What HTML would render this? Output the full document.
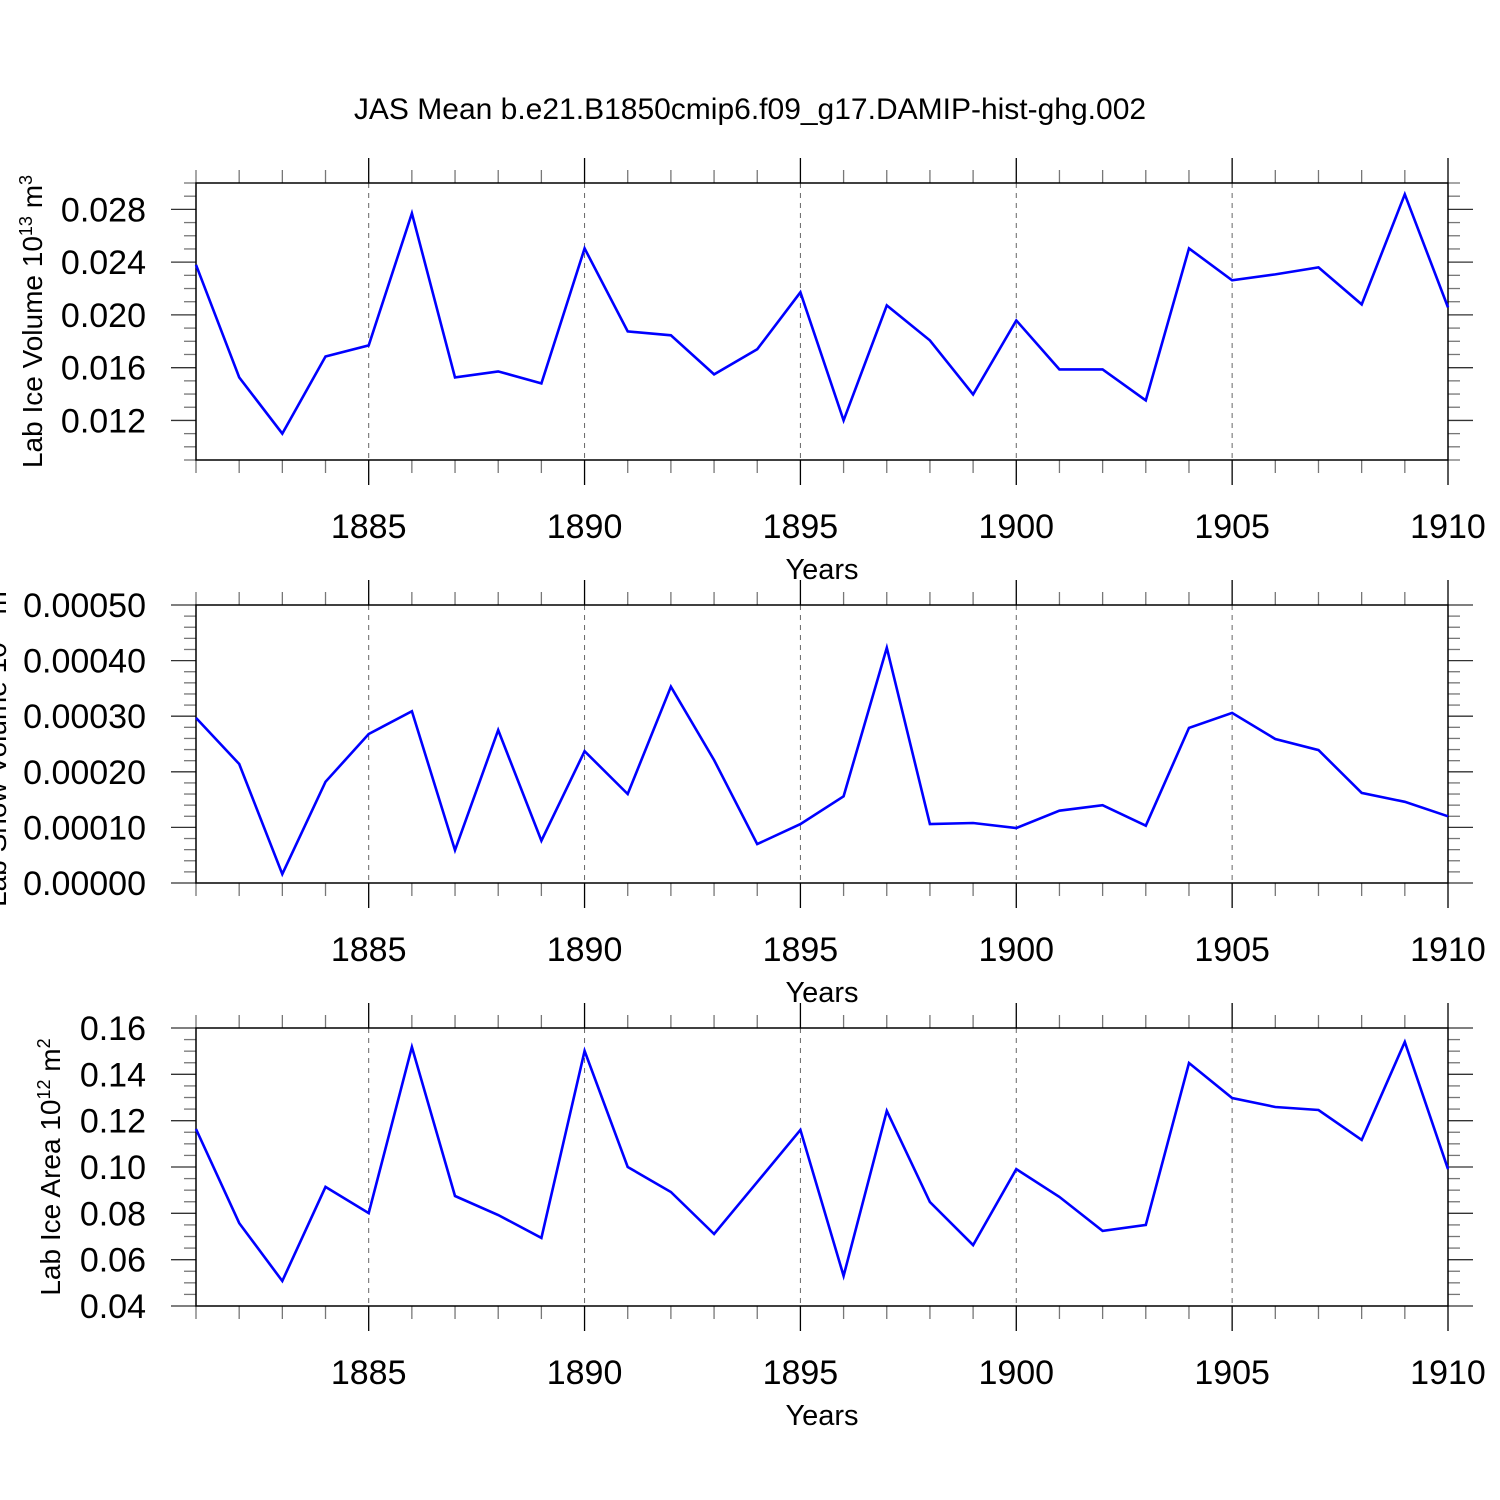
<!DOCTYPE html>
<html><head><meta charset="utf-8">
<style>
html,body{margin:0;padding:0;background:#fff;}
svg{display:block;font-family:"Liberation Sans",Arial,sans-serif;}
</style></head>
<body>
<svg id="chart" width="1500" height="1500" viewBox="0 0 1500 1500">
<text x="750" y="119" text-anchor="middle" font-size="30">JAS Mean b.e21.B1850cmip6.f09_g17.DAMIP-hist-ghg.002</text>
</svg>
<script>
const years = [1881,1882,1883,1884,1885,1886,1887,1888,1889,1890,1891,1892,1893,1894,1895,1896,1897,1898,1899,1900,1901,1902,1903,1904,1905,1906,1907,1908,1909,1910];
const iceVolume = [0.0238,0.01526,0.0110,0.01685,0.01769,0.0277,0.01526,0.01572,0.01481,0.02504,0.01875,0.01845,0.01549,0.01739,0.02171,0.0120,0.02072,0.01807,0.01397,0.01958,0.01587,0.01587,0.01352,0.02504,0.02262,0.02307,0.0236,0.0208,0.02914,0.02057];
const snowVolume = [0.000297,0.000214,0.000016,0.000182,0.000268,0.000309,0.000059,0.000275,0.000076,0.000237,0.00016,0.000353,0.000221,0.00007,0.000106,0.000156,0.000423,0.000106,0.000108,0.000099,0.00013,0.00014,0.000103,0.000279,0.000306,0.000259,0.000239,0.000162,0.000146,0.00012];
const iceArea = [0.1164,0.0758,0.0508,0.0914,0.0801,0.1518,0.0875,0.0793,0.0694,0.1501,0.1,0.0892,0.0711,0.0935,0.116,0.053,0.1242,0.0849,0.0663,0.0991,0.0871,0.0724,0.075,0.1449,0.1298,0.1259,0.1246,0.1117,0.154,0.0991];
const xTickLabels = [1885,1890,1895,1900,1905,1910];
const yTicks1 = [0.012,0.016,0.020,0.024,0.028];
const yTicks2 = [0,0.0001,0.0002,0.0003,0.0004,0.0005];
const yTicks3 = [0.04,0.06,0.08,0.10,0.12,0.14,0.16];

const NS='http://www.w3.org/2000/svg';
const svg=document.getElementById('chart');
function mk(tag,attrs,parent){const e=document.createElementNS(NS,tag);for(const k in attrs)e.setAttribute(k,attrs[k]);(parent||svg).appendChild(e);return e;}
const X0=196,X1=1448,xmin=1881,xmax=1910;
function xs(v){return X0+(v-xmin)/(xmax-xmin)*(X1-X0);}

const panels=[
 {name:'ice-volume',top:183,bot:460,ymin:0.009,ymax:0.030,data:iceVolume,ticks:yTicks1,minor:0.001,dec:3,title:'Lab Ice Volume 10',sup:'13',unit:' m',usup:'3',tx:42},
 {name:'snow-volume',top:605,bot:883,ymin:0,ymax:0.0005,data:snowVolume,ticks:yTicks2,minor:0.00002,dec:5,title:'Lab Snow Volume 10',sup:'13',unit:' m',usup:'3',tx:6},
 {name:'ice-area',top:1028,bot:1306,ymin:0.04,ymax:0.16,data:iceArea,ticks:yTicks3,minor:0.005,dec:2,title:'Lab Ice Area 10',sup:'12',unit:' m',usup:'2',tx:60}
];
panels.forEach(p=>{
 const g=mk('g',{});
 
 
 const ys=v=>p.bot-(v-p.ymin)/(p.ymax-p.ymin)*(p.bot-p.top);
 xTickLabels.forEach(yr=>{
  const l=mk('line',{x1:xs(yr),x2:xs(yr),y1:p.top,y2:p.bot,stroke:'#666','stroke-width':1,'stroke-dasharray':'5,5'},g);
  
  
 });
 years.forEach(yr=>{
  const major=yr%5===0;const len=major?25:13;
  mk('line',{x1:xs(yr),x2:xs(yr),y1:p.top-len,y2:p.top,stroke:major?'#000':'#777','stroke-width':1.3},g);
  mk('line',{x1:xs(yr),x2:xs(yr),y1:p.bot,y2:p.bot+len,stroke:major?'#000':'#777','stroke-width':1.3},g);
 });
 const n=Math.round((p.ymax-p.ymin)/p.minor);
 for(let i=0;i<=n;i++){
  const v=p.ymin+i*p.minor;const y=ys(v);
  const isMaj=p.ticks.some(t=>Math.abs(t-v)<p.minor*0.1);
  const len=isMaj?25:12;
  mk('line',{x1:X0-len,x2:X0,y1:y,y2:y,stroke:isMaj?'#333':'#777','stroke-width':1.3},g);
  mk('line',{x1:X1,x2:X1+len,y1:y,y2:y,stroke:isMaj?'#333':'#777','stroke-width':1.3},g);
 }
 p.ticks.forEach(t=>{
  const tl=mk('text',{x:146,y:ys(t)+12,'text-anchor':'end','font-size':34},g);
  tl.textContent=t.toFixed(p.dec);
  
  
 });
 const fr=mk('rect',{x:X0,y:p.top,width:X1-X0,height:p.bot-p.top,fill:'none',stroke:'#000','stroke-width':1.5},g);
 
 
 xTickLabels.forEach(yr=>{
  const tl=mk('text',{x:xs(yr),y:p.bot+78,'text-anchor':'middle','font-size':34},g);
  tl.textContent=yr;
  
  
 });
 const xt=mk('text',{x:822,y:p.bot+119,'text-anchor':'middle','font-size':29},g);
 xt.textContent='Years';
 
 
 const cy=(p.top+p.bot)/2;
 const yt=mk('text',{x:0,y:0,'text-anchor':'middle','font-size':28,transform:`translate(${p.tx},${cy}) rotate(-90)`},g);
 
 
 const a=mk('tspan',{},yt);a.textContent=p.title;
 const b=mk('tspan',{'baseline-shift':'super','font-size':18},yt);b.textContent=p.sup;
 const c=mk('tspan',{},yt);c.textContent=p.unit;
 const d=mk('tspan',{'baseline-shift':'super','font-size':18},yt);d.textContent=p.usup;
 const pts=years.map((yr,i)=>xs(yr).toFixed(1)+','+ys(p.data[i]).toFixed(1)).join(' ');
 const pl=mk('polyline',{points:pts,fill:'none',stroke:'#0000ff','stroke-width':2.6,'stroke-linejoin':'miter'},g);
 
 
});
</script>
</body></html>
